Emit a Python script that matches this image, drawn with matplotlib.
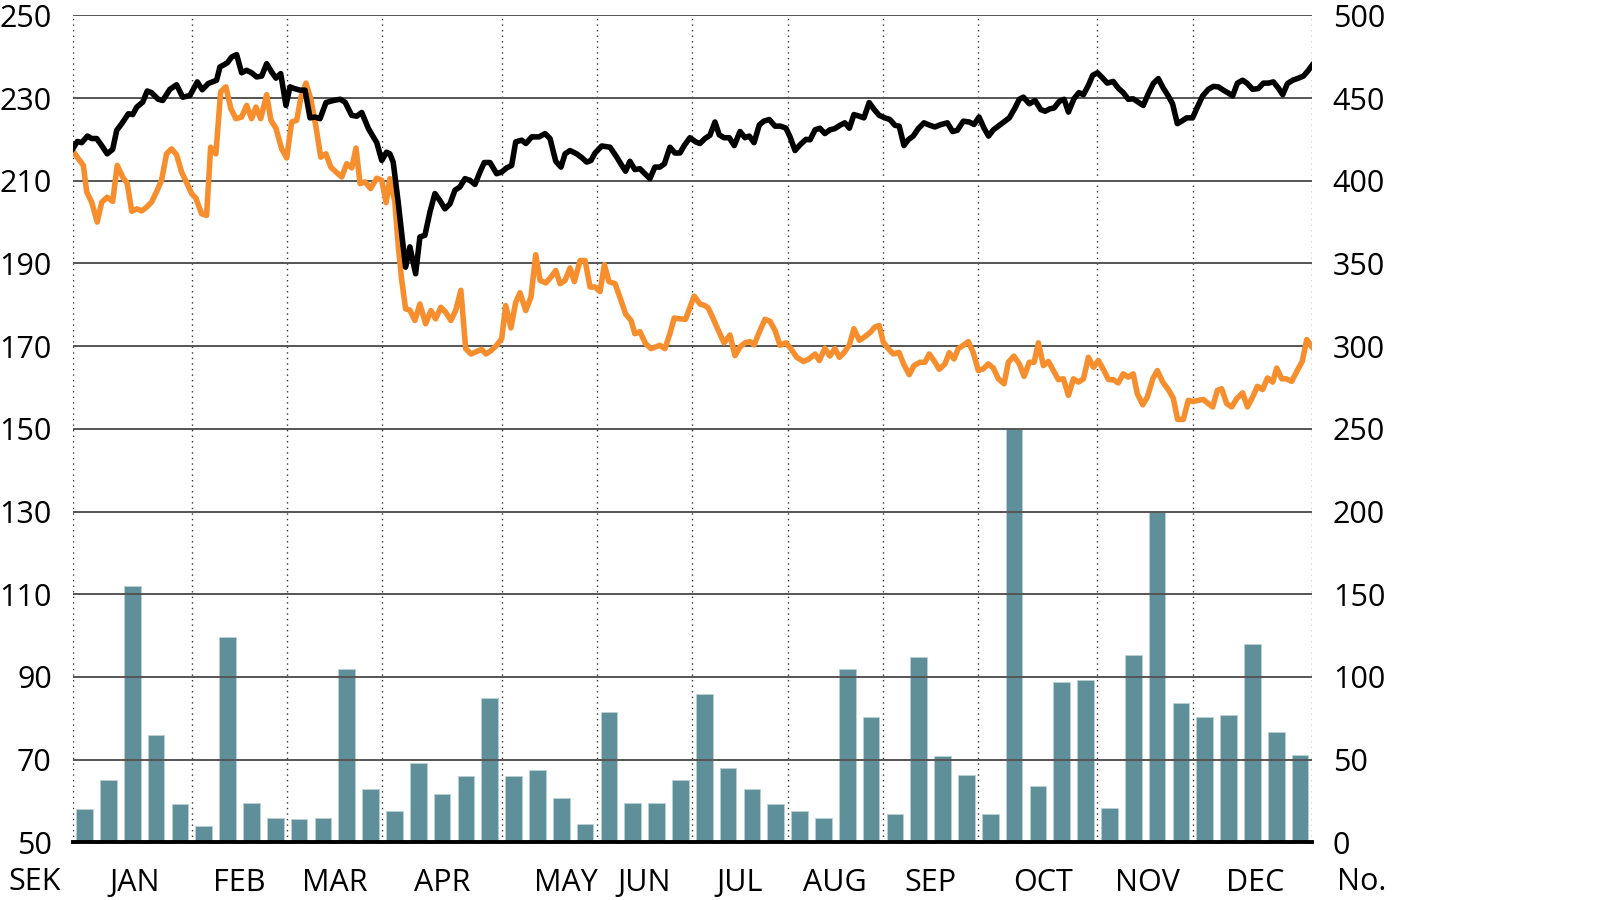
import numpy as np
import matplotlib
matplotlib.use('Agg')
import matplotlib.pyplot as plt
from matplotlib.transforms import blended_transform_factory

plt.rcParams['font.family'] = ['Open Sans', 'DejaVu Sans']

# weekly volume (No.), one bar per week
volume = [20, 38, 155, 65, 23, 10, 124, 24, 15, 14, 15, 105, 32, 19, 48, 29,
          40, 87, 40, 44, 27, 11, 79, 24, 24, 38, 90, 45, 32, 23, 19, 15,
          105, 76, 17, 112, 52, 41, 17, 250, 34, 97, 98, 21, 113, 200, 84, 76,
          77, 120, 67, 53]

# month boundaries, in weeks from start of year
month_edges = [0, 5, 9, 13, 18, 22, 26, 30, 34, 38, 43, 47, 52]
months = ['JAN', 'FEB', 'MAR', 'APR', 'MAY', 'JUN', 'JUL', 'AUG', 'SEP', 'OCT', 'NOV', 'DEC']

# black share price (SEK), x in weeks
black_wk = [0.0, 0.20, 0.38, 0.62, 0.80, 1.01, 1.22, 1.45, 1.68, 1.85, 2.06, 2.34, 2.52, 2.69,
            2.94, 3.13, 3.31, 3.59, 3.78, 4.08, 4.36, 4.62, 4.92, 5.23, 5.44, 5.69, 6.04, 6.18,
            6.49, 6.67, 6.88, 7.09, 7.30, 7.51, 7.72, 7.93, 8.14, 8.35, 8.53, 8.73, 8.95, 9.12,
            9.29, 9.54, 9.75, 9.96, 10.17, 10.38, 10.63, 10.94, 11.22, 11.43, 11.71, 11.92,
            12.13, 12.41, 12.76, 12.97, 13.17, 13.31, 13.45, 13.66, 13.83, 13.97, 14.15, 14.39,
            14.57, 14.78, 14.99, 15.20, 15.41, 15.62, 15.83, 16.04, 16.25, 16.46, 16.67, 16.88,
            17.09, 17.27, 17.51, 17.79, 18.0, 18.21, 18.42, 18.59, 18.84, 19.02, 19.26, 19.57,
            19.82, 20.03, 20.27, 20.49, 20.66, 20.87, 21.15, 21.36, 21.57, 21.75, 21.92, 22.2,
            22.55, 22.83, 23.04, 23.2, 23.38, 23.59, 23.80, 24.01, 24.22, 24.43, 24.64, 24.83,
            25.06, 25.27, 25.48, 25.66, 25.90, 26.14, 26.32, 26.53, 26.74, 26.95, 27.13, 27.33,
            27.55, 27.76, 28.0, 28.21, 28.39, 28.59, 28.81, 29.0, 29.23, 29.47, 29.70, 29.93,
            30.10, 30.31, 30.52, 30.77, 30.94, 31.15, 31.35, 31.56, 31.77, 31.98, 32.19, 32.40,
            32.59, 32.78, 33.01, 33.20, 33.42, 33.62, 33.84, 34.08, 34.29, 34.50, 34.68, 34.88,
            35.06, 35.27, 35.48, 35.72, 35.97, 36.18, 36.39, 36.70, 36.92, 37.12, 37.37, 37.62,
            37.82, 38.03, 38.24, 38.43, 38.63, 38.84, 39.08, 39.30, 39.54, 39.72, 39.89, 40.14,
            40.38, 40.62, 40.80, 41.01, 41.18, 41.40, 41.60, 41.78, 42.01, 42.22, 42.41, 42.62,
            42.80, 43.0, 43.22, 43.41, 43.66, 43.87, 44.08, 44.29, 44.50, 44.71, 44.92, 45.13,
            45.34, 45.55, 45.76, 45.97, 46.15, 46.35, 46.53, 46.74, 46.99, 47.19, 47.41, 47.65,
            47.86, 48.07, 48.28, 48.49, 48.67, 48.87, 49.09, 49.29, 49.51, 49.75, 49.96, 50.17,
            50.38, 50.59, 50.77, 50.97, 51.19, 51.43, 51.64, 51.85, 52.0]
black_sek = [217.7, 219.5, 219.2, 220.8, 220.2, 220.2, 218.5, 216.5, 217.6, 222.2, 223.8, 226.2,
             226.0, 227.8, 229.0, 231.7, 231.3, 229.7, 229.4, 232.1, 233.2, 230.2, 230.6, 233.9,
             232.0, 233.5, 234.3, 237.5, 238.5, 239.9, 240.5, 236.1, 236.7, 236.1, 235.1, 235.3,
             238.3, 236.3, 234.8, 235.9, 228.2, 232.7, 232.3, 231.9, 231.9, 225.2, 225.4, 225.0,
             228.9, 229.4, 229.7, 229.0, 225.8, 225.6, 226.5, 222.6, 219.2, 214.9, 216.9, 216.5,
             214.5, 204.8, 196.0, 189.1, 194.0, 187.5, 196.4, 196.8, 202.4, 206.9, 205.2, 203.2,
             204.4, 207.7, 208.5, 210.5, 210.1, 209.1, 212.1, 214.4, 214.4, 211.7, 212.1, 213.1,
             213.7, 219.4, 219.8, 219.0, 220.6, 220.6, 221.4, 220.2, 214.7, 213.3, 216.5, 217.3,
             216.5, 215.6, 214.5, 214.9, 216.7, 218.4, 218.1, 215.7, 213.7, 212.3, 214.7, 212.7,
             212.9, 211.7, 210.5, 213.3, 213.3, 214.1, 218.1, 216.7, 216.7, 218.5, 220.4, 219.4,
             219.0, 220.2, 221.0, 224.2, 221.1, 220.4, 220.4, 218.5, 221.9, 220.4, 220.8, 219.2,
             223.5, 224.4, 224.8, 223.2, 223.2, 222.7, 220.6, 217.3, 218.7, 220.0, 219.9, 222.3,
             222.7, 221.4, 222.3, 222.6, 223.4, 224.0, 222.7, 226.0, 225.6, 225.2, 228.9, 227.3,
             225.8, 225.2, 224.8, 223.4, 223.2, 218.5, 219.9, 220.8, 222.6, 224.0, 223.4, 223.0,
             223.5, 224.0, 221.9, 222.2, 224.4, 224.2, 223.6, 225.4, 222.7, 220.8, 222.3, 223.2,
             224.2, 225.2, 227.6, 229.7, 230.2, 228.6, 229.4, 227.2, 226.8, 227.4, 227.6, 229.2,
             229.7, 226.6, 229.8, 231.3, 230.8, 233.1, 235.5, 236.1, 234.8, 233.6, 234.0, 232.4,
             231.3, 229.7, 229.8, 229.0, 228.2, 231.0, 233.5, 234.7, 232.4, 230.5, 228.6, 223.8,
             224.4, 225.2, 225.2, 227.8, 230.5, 232.1, 232.8, 232.7, 231.9, 231.2, 230.5, 233.6,
             234.3, 233.5, 232.1, 232.3, 233.6, 233.6, 233.9, 232.4, 230.8, 233.5, 234.3, 234.8,
             235.3, 236.7, 237.9]

# orange share price (SEK), x in weeks
orange_wk = [0.0, 0.24, 0.45, 0.59, 0.80, 1.03, 1.22, 1.45, 1.68, 1.87, 2.10, 2.29, 2.48, 2.69,
             2.90, 3.10, 3.31, 3.55, 3.73, 3.94, 4.15, 4.36, 4.57, 4.76, 4.99, 5.17, 5.41, 5.62,
             5.79, 6.01, 6.21, 6.43, 6.64, 6.85, 7.09, 7.30, 7.51, 7.69, 7.89, 8.14, 8.32, 8.53,
             8.77, 8.98, 9.19, 9.40, 9.58, 9.79, 9.99, 10.21, 10.41, 10.63, 10.83, 11.05, 11.29,
             11.50, 11.71, 11.89, 12.06, 12.27, 12.50, 12.76, 12.97, 13.15, 13.31, 13.52, 13.66,
             13.80, 13.97, 14.15, 14.36, 14.57, 14.81, 15.03, 15.23, 15.45, 15.65, 15.87, 16.07,
             16.29, 16.49, 16.71, 16.95, 17.16, 17.34, 17.55, 17.79, 18.0, 18.17, 18.39, 18.59,
             18.77, 19.01, 19.23, 19.43, 19.61, 19.85, 20.07, 20.27, 20.45, 20.66, 20.87, 21.05,
             21.29, 21.50, 21.71, 21.92, 22.13, 22.31, 22.50, 22.76, 23.01, 23.20, 23.43, 23.59,
             23.80, 24.04, 24.27, 24.46, 24.64, 24.85, 25.06, 25.24, 25.48, 25.72, 25.90, 26.08,
             26.32, 26.53, 26.67, 26.88, 27.09, 27.33, 27.58, 27.79, 28.0, 28.21, 28.42, 28.59,
             28.81, 29.05, 29.26, 29.47, 29.68, 29.93, 30.12, 30.38, 30.66, 30.87, 31.15, 31.33,
             31.56, 31.77, 31.98, 32.17, 32.36, 32.59, 32.78, 33.01, 33.24, 33.48, 33.66, 33.84,
             34.01, 34.22, 34.43, 34.67, 34.88, 35.10, 35.30, 35.55, 35.76, 35.94, 36.14, 36.36,
             36.60, 36.78, 36.98, 37.16, 37.37, 37.58, 37.79, 38.0, 38.21, 38.42, 38.63, 38.84,
             39.08, 39.26, 39.49, 39.72, 39.92, 40.14, 40.34, 40.52, 40.73, 40.94, 41.15, 41.36,
             41.57, 41.78, 41.99, 42.20, 42.41, 42.62, 42.83, 43.04, 43.27, 43.46, 43.66, 43.87,
             44.08, 44.29, 44.50, 44.67, 44.90, 45.09, 45.32, 45.51, 45.74, 45.97, 46.18, 46.36,
             46.60, 46.81, 47.02, 47.23, 47.44, 47.65, 47.83, 48.03, 48.21, 48.42, 48.63, 48.84,
             49.09, 49.29, 49.51, 49.71, 49.93, 50.13, 50.35, 50.52, 50.73, 50.92, 51.15, 51.38,
             51.59, 51.78, 52.0]
orange_sek = [217.3, 215.3, 213.7, 207.3, 204.8, 200.0, 204.8, 206.0, 205.0, 213.7, 210.9, 209.3,
              202.6, 203.2, 202.7, 203.6, 204.8, 207.7, 210.1, 216.5, 217.7, 216.3, 212.1, 209.8,
              206.9, 205.8, 202.0, 201.6, 218.1, 216.5, 231.5, 232.7, 227.4, 225.0, 225.4, 228.2,
              225.0, 227.8, 225.0, 230.8, 224.6, 222.7, 217.7, 215.5, 224.2, 224.6, 230.2, 233.6,
              229.8, 223.0, 215.7, 216.5, 213.3, 212.1, 210.9, 214.1, 213.1, 217.9, 209.3, 209.7,
              208.1, 210.6, 210.1, 204.7, 210.5, 204.8, 194.4, 186.3, 179.0, 178.7, 176.2, 180.2,
              175.4, 178.6, 176.6, 179.4, 178.2, 176.2, 178.6, 183.5, 169.4, 168.1, 168.7, 169.2,
              168.1, 168.9, 170.2, 171.8, 179.8, 174.4, 180.6, 182.9, 178.6, 181.9, 192.1, 185.9,
              185.3, 186.7, 188.3, 185.1, 185.9, 188.9, 185.6, 190.7, 190.7, 184.3, 184.3, 183.2,
              189.7, 185.6, 185.1, 181.0, 177.8, 176.2, 173.0, 173.5, 170.6, 169.4, 169.8, 170.2,
              169.4, 173.0, 176.8, 176.6, 176.5, 179.4, 182.1, 180.2, 179.8, 179.2, 176.6, 173.8,
              170.8, 172.7, 167.7, 169.8, 170.8, 171.1, 170.3, 173.4, 176.5, 176.0, 173.8, 170.2,
              170.8, 169.5, 167.3, 166.3, 166.8, 168.1, 166.5, 169.5, 167.6, 169.4, 167.3, 168.4,
              170.3, 174.2, 171.4, 172.3, 173.4, 174.6, 175.0, 171.0, 169.4, 168.1, 168.5, 165.5,
              163.1, 165.3, 166.1, 166.1, 168.1, 166.5, 164.4, 165.7, 168.4, 166.9, 169.4, 170.2,
              171.1, 168.4, 164.1, 164.5, 165.7, 164.7, 162.1, 160.9, 166.1, 167.6, 165.7, 162.7,
              166.1, 166.1, 170.8, 165.3, 166.3, 164.1, 161.9, 162.1, 158.1, 162.1, 161.3, 162.1,
              167.3, 164.9, 166.5, 164.1, 161.9, 161.9, 161.1, 163.3, 162.5, 163.3, 158.5, 155.8,
              157.7, 162.1, 164.1, 161.3, 159.5, 157.4, 152.3, 152.3, 156.9, 156.6, 156.9, 157.1,
              156.1, 155.3, 159.3, 159.7, 156.1, 155.3, 157.3, 158.7, 155.3, 157.7, 160.3, 159.5,
              162.3, 161.3, 164.7, 162.1, 162.1, 161.5, 164.1, 166.3, 171.6, 169.8]

sek_ticks = list(range(50, 251, 20))
no_ticks = list(range(0, 501, 50))

fig = plt.figure(figsize=(16, 9), dpi=100)
ax = fig.add_axes([0.0454, 0.064, 0.7746, 0.919])
ax2 = ax.twinx()
ax.set_zorder(ax2.get_zorder() + 1)
ax.patch.set_visible(False)

# weekly bars on the right scale
weeks = np.arange(len(volume)) + 0.5
ax2.bar(weeks, volume, width=0.7, color='#5f8f99', edgecolor='#b9d0d4', linewidth=0.6)
ax2.set_ylim(0, 500)
ax2.set_yticks(no_ticks)

# price lines on the left scale
ax.plot(orange_wk, orange_sek, color='#f68e2e', lw=4.0, solid_joinstyle='round', zorder=4)
ax.plot(black_wk, black_sek, color='black', lw=4.0, solid_joinstyle='round', zorder=5)

ax.set_xlim(0, 52)
ax.set_ylim(50, 250)
ax.set_yticks(sek_ticks)
ax.yaxis.grid(True, color='#555555', lw=1.4, zorder=2)
ax.set_axisbelow(False)
for b in month_edges:
    ax.axvline(b, color='#333333', lw=1.0, ls=(0, (1, 3)), zorder=1)

ax.set_xticks([])
for a in (ax, ax2):
    for s in ('top', 'left', 'right'):
        a.spines[s].set_visible(False)
    a.tick_params(axis='y', length=0, labelsize=22)
ax2.spines['bottom'].set_visible(False)
ax.spines['bottom'].set_linewidth(2.8)
ax.spines['bottom'].set_color('black')
ax.spines['bottom'].set_zorder(6)
ax.tick_params(axis='y', pad=15)
ax2.tick_params(axis='y', pad=15)

# month labels centred in each month (MAY sits a little right in the original)
nudge = {'JAN': 0.1, 'MAY': 0.7, 'OCT': 0.2, 'NOV': 0.1, 'DEC': 0.1}
trans = blended_transform_factory(ax.transData, ax.transAxes)
for i, m in enumerate(months):
    xc = (month_edges[i] + month_edges[i + 1]) / 2 + nudge.get(m, 0)
    ax.text(xc, -0.049, m, transform=trans, ha='center', va='center', fontsize=22)

fig.text(35 / 1600, 1 - 882 / 900, 'SEK', ha='center', va='center', fontsize=22)
fig.text(1337 / 1600, 1 - 882 / 900, 'No.', ha='left', va='center', fontsize=22)

fig.savefig('out.png', dpi=100)
